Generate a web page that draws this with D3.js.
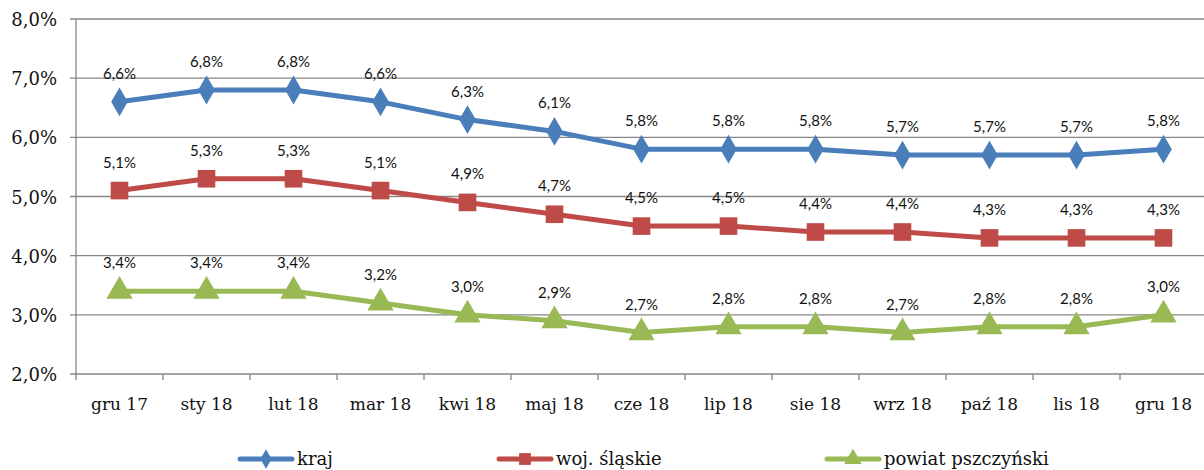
<!DOCTYPE html>
<html><head><meta charset="utf-8">
<script src="https://cdn.jsdelivr.net/npm/d3@7"></script>
<style>body{margin:0;background:#fff;} svg{display:block;}</style>
</head><body>
<script>
const categories = ["gru 17","sty 18","lut 18","mar 18","kwi 18","maj 18","cze 18","lip 18","sie 18","wrz 18","paź 18","lis 18","gru 18"];
const kraj = [6.6,6.8,6.8,6.6,6.3,6.1,5.8,5.8,5.8,5.7,5.7,5.7,5.8];
const woj = [5.1,5.3,5.3,5.1,4.9,4.7,4.5,4.5,4.4,4.4,4.3,4.3,4.3];
const powiat = [3.4,3.4,3.4,3.2,3.0,2.9,2.7,2.8,2.8,2.7,2.8,2.8,3.0];
const yTicks = [2,3,4,5,6,7,8];
const seriesNames = ["kraj","woj. śląskie","powiat pszczyński"];

const W=1204,H=470;
const svg=d3.select("body").append("svg").attr("width",W).attr("height",H);
const x=d3.scaleBand().domain(categories).range([76,1207]);
const y=d3.scaleLinear().domain([2,8]).range([374,19]);
const fmt=v=>d3.format(".1f")(v).replace(".",",")+"%";

svg.append("g").selectAll("line").data(yTicks).join("line")
  .attr("x1",70).attr("x2",W).attr("y1",d=>y(d)).attr("y2",d=>y(d))
  .attr("stroke","#868686").attr("stroke-width",1.3);
svg.append("line").attr("x1",76).attr("x2",76).attr("y1",19).attr("y2",374).attr("stroke","#868686").attr("stroke-width",1.3);
svg.append("g").selectAll("line").data(d3.range(categories.length+1)).join("line")
  .attr("x1",i=>76+i*x.step()).attr("x2",i=>76+i*x.step()).attr("y1",374).attr("y2",380)
  .attr("stroke","#868686").attr("stroke-width",1.3);
svg.append("g").selectAll("text").data(yTicks).join("text")
  .attr("x",57).attr("y",d=>y(d)+7).attr("text-anchor","end")
  .attr("font-family","DejaVu Serif").attr("font-size",18).attr("fill","#111")
  .text(d=>fmt(d));
svg.append("g").selectAll("text").data(categories).join("text")
  .attr("x",d=>x(d)+x.bandwidth()/2).attr("y",410).attr("text-anchor","middle")
  .attr("font-family","DejaVu Serif").attr("font-size",17).attr("fill","#111")
  .text(d=>d);

const series=[
  {name:seriesNames[0],vals:kraj,color:"#4a7ebb",sym:d3.symbolDiamond,size:240},
  {name:seriesNames[1],vals:woj,color:"#be4b48",sym:d3.symbolSquare,size:310},
  {name:seriesNames[2],vals:powiat,color:"#98b954",sym:d3.symbolTriangle,size:300}
];
const cx=i=>x(categories[i])+x.bandwidth()/2;
const line=d3.line().x((d,i)=>cx(i)).y(d=>y(d));
series.forEach(s=>{
  svg.append("path").datum(s.vals).attr("d",line).attr("fill","none")
    .attr("stroke",s.color).attr("stroke-width",5).attr("stroke-linejoin","round");
  svg.append("g").selectAll("path").data(s.vals).join("path")
    .attr("d",d3.symbol(s.sym,s.size)).attr("fill",s.color)
    .attr("transform",(d,i)=>`translate(${cx(i)},${y(d)})`);
  svg.append("g").selectAll("text").data(s.vals).join("text")
    .attr("x",(d,i)=>cx(i)).attr("y",d=>y(d)-23).attr("text-anchor","middle")
    .attr("font-family","Lato").attr("font-size",15).attr("fill","#111")
    .text(d=>fmt(d));
});

const legX=[238,497,825];
series.forEach((s,k)=>{
  const g=svg.append("g").attr("transform",`translate(${legX[k]},459)`);
  g.append("line").attr("x1",2).attr("x2",54).attr("stroke",s.color).attr("stroke-width",5).attr("stroke-linecap","round");
  g.append("path").attr("d",d3.symbol(s.sym,s.size*0.45)).attr("fill",s.color).attr("transform","translate(28,0)");
  g.append("text").attr("x",59).attr("y",6).attr("font-family","DejaVu Serif").attr("font-size",18).attr("fill","#111").text(s.name);
});
</script>
</body></html>
